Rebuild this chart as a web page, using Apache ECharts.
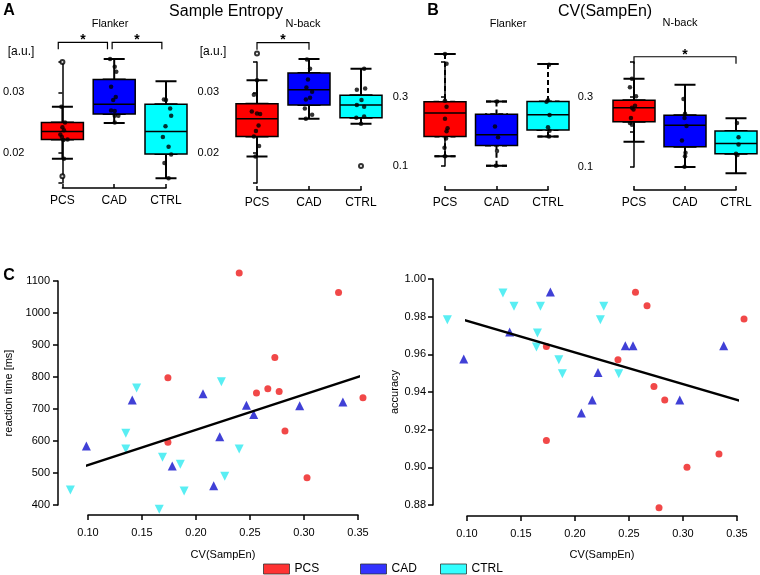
<!DOCTYPE html>
<html>
<head>
<meta charset="utf-8">
<script src="https://cdn.jsdelivr.net/npm/echarts@6/dist/echarts.min.js"></script>
<style>
  html, body { margin: 0; padding: 0; background: #fff; }
  #main { width: 760px; height: 575px; }
</style>
</head>
<body>
<div id="main"></div>
<script>
const groups = ['PCS', 'CAD', 'CTRL'];
const boxColors = ['#ff0000', '#0000ff', '#00ffff'];
const pointColors = ['#ee1a1a', '#1010cc', '#30eaf0'];

// boxes: [min, Q1, median, Q3, max] for PCS, CAD, CTRL
const aFlankerBox = [
  [0.0190, 0.0222, 0.0235, 0.0250, 0.0276],
  [0.0249, 0.0264, 0.0280, 0.0321, 0.0355],
  [0.0158, 0.0198, 0.0235, 0.0280, 0.0318]
];
const aFlankerDots = [
  [-0.02, 0.0276], [0.05, 0.0250], [0, 0.0242], [0.03, 0.0237], [-0.04, 0.0230],
  [-0.01, 0.0226], [0.10, 0.0222], [0.02, 0.0221], [0.03, 0.0190],
  [0.92, 0.0355], [1.01, 0.0342], [1.04, 0.0334], [0.94, 0.0309], [1.03, 0.0292],
  [0.98, 0.0287], [0.94, 0.0270], [1.01, 0.0269], [1.01, 0.0261], [1.08, 0.0261], [1.01, 0.0250],
  [1.96, 0.0288], [2.0, 0.0287], [2.08, 0.0273], [2.10, 0.0261], [1.99, 0.0244],
  [1.94, 0.0226], [2.05, 0.0210], [2.10, 0.0197], [1.97, 0.0183], [2.05, 0.0158]
];
const aFlankerOut = [[0, 0.0350], [0, 0.0161]];

const aNbackBox = [
  [0.0194, 0.0227, 0.0256, 0.0281, 0.0320],
  [0.0256, 0.0279, 0.0304, 0.0332, 0.0355],
  [0.0248, 0.0258, 0.0279, 0.0295, 0.0339]
];
const aNbackDots = [
  [0, 0.0320], [-0.06, 0.0296], [-0.10, 0.0268], [0, 0.0265], [0.06, 0.0264],
  [0.03, 0.0245], [-0.02, 0.0236], [-0.06, 0.0227], [0.04, 0.0211], [-0.03, 0.0194],
  [0.96, 0.0354], [1.02, 0.0339], [0.98, 0.0321], [0.95, 0.0308], [1.06, 0.0301],
  [1.02, 0.0291], [0.94, 0.0288], [0.92, 0.0273], [1.06, 0.0263], [0.94, 0.0256],
  [2.06, 0.0339], [1.92, 0.0304], [2.08, 0.0306], [2.01, 0.0287], [1.92, 0.0279],
  [2.06, 0.0276], [1.91, 0.0258], [2.06, 0.0260], [2.0, 0.0248]
];
const aNbackOut = [[0, 0.0364], [2, 0.0178]];

const bFlankerBox = [
  [0.128, 0.185, 0.253, 0.285, 0.423],
  [0.101, 0.159, 0.190, 0.249, 0.286],
  [0.185, 0.204, 0.248, 0.286, 0.394]
];
const bFlankerDots = [
  [0, 0.423], [0.03, 0.395], [0, 0.288], [0.03, 0.271], [0, 0.236], [0.05, 0.209],
  [0.03, 0.200], [0.02, 0.179], [-0.01, 0.153], [0, 0.128],
  [1.01, 0.286], [0.97, 0.214], [1.03, 0.183], [1.01, 0.143], [0.99, 0.101],
  [2.02, 0.392], [2.0, 0.290], [1.97, 0.285], [2.03, 0.247], [2.0, 0.212], [2.03, 0.202], [2.02, 0.185]
];

const bNbackBox = [
  [0.172, 0.229, 0.269, 0.291, 0.352],
  [0.100, 0.158, 0.219, 0.248, 0.335],
  [0.082, 0.138, 0.167, 0.203, 0.239]
];
const bNbackDots = [
  [-0.04, 0.352], [-0.08, 0.328], [0.04, 0.302], [0.02, 0.275], [-0.04, 0.269],
  [-0.01, 0.264], [-0.06, 0.240], [-0.08, 0.226], [-0.04, 0.221],
  [0.97, 0.294], [1.0, 0.252], [0.99, 0.240], [1.03, 0.217], [0.94, 0.176],
  [1.01, 0.141], [1.0, 0.131], [0.99, 0.101],
  [2.02, 0.226], [2.05, 0.185], [2.05, 0.164], [2.0, 0.138], [2.03, 0.134]
];

// significance brackets: [from, to, level]
const aFlankerSig = [[-0.08, 0.87, 0.03826], [0.96, 1.92, 0.03826]];
const aNbackSig = [[0, 1, 0.0382]];
const bNbackSig = [[0, 2, 0.415]];

const aTickLabels = [0.02, 0.03];
const bTickLabels = [0.1, 0.3];

// panel C: [CV(SampEn), reaction time]
const rtPCS = [[0.174, 798], [0.174, 596], [0.240, 1125], [0.332, 1064], [0.273, 861], [0.256, 750],
  [0.2665, 763], [0.277, 755], [0.3546, 735], [0.2824, 631], [0.3028, 485]];
const rtCAD = [[0.141, 728], [0.0985, 584], [0.178, 522], [0.2065, 748], [0.2467, 712], [0.296, 710],
  [0.336, 722], [0.2534, 683], [0.222, 613], [0.2164, 460]];
const rtCTRL = [[0.145, 766], [0.135, 624], [0.135, 575], [0.169, 549], [0.1855, 527], [0.0837, 447],
  [0.189, 444], [0.166, 387], [0.2235, 785], [0.240, 575], [0.2266, 490]];
const rtFit = [[0.072, 494], [0.366, 818]];

// panel C: [CV(SampEn), accuracy]
const accPCS = [[0.1735, 0.9642], [0.1735, 0.9142], [0.256, 0.993], [0.2667, 0.9858], [0.3565, 0.9788],
  [0.2398, 0.9571], [0.2731, 0.9429], [0.2831, 0.9358], [0.3333, 0.9071], [0.3037, 0.900], [0.2778, 0.8786]];
const accCAD = [[0.1772, 0.9931], [0.1395, 0.9719], [0.097, 0.9575], [0.2466, 0.9646], [0.2537, 0.9646],
  [0.3377, 0.9646], [0.2213, 0.9504], [0.297, 0.9358], [0.216, 0.9358], [0.2059, 0.9288]];
const accCTRL = [[0.1333, 0.9926], [0.1435, 0.9855], [0.168, 0.9855], [0.0818, 0.9784], [0.1652, 0.9713],
  [0.1643, 0.9639], [0.185, 0.9571], [0.1883, 0.9497], [0.2266, 0.9855], [0.2235, 0.9784], [0.2405, 0.9497]];
const accFit = [[0.070, 0.9828], [0.3685, 0.9327]];

const FONT = 'Liberation Sans, Arial, sans-serif';
const chart = echarts.init(document.getElementById('main'));

const grids = [
  {left: 62, top: 62, width: 104, height: 121},
  {left: 257, top: 62, width: 104, height: 121},
  {left: 445, top: 62, width: 103, height: 104},
  {left: 634, top: 62, width: 102, height: 105},
  {left: 88, top: 281, width: 270, height: 224},
  {left: 467, top: 279, width: 270, height: 226}
];

const axisLine = {show: true, lineStyle: {color: '#000', width: 1.5}};

function boxXAxis(i, offset) {
  return {
    gridIndex: i, type: 'value', min: 0, max: 2, interval: 1, offset: offset,
    axisLine: axisLine,
    axisTick: {show: true, inside: true, length: 4, lineStyle: {color: '#000', width: 1.5}},
    axisLabel: {formatter: v => groups[v] || '', color: '#000', fontSize: 12, margin: 7, fontFamily: FONT},
    splitLine: {show: false}
  };
}

// hidden twin axes so that the stacked boxplot layers are not laid out side by side
function hiddenXAxis(i) {
  return {gridIndex: i, type: 'value', min: 0, max: 2, show: false};
}

function boxYAxis(i, min, max, interval, offset, labels, digits) {
  return {
    gridIndex: i, type: 'value', min: min, max: max, interval: interval, offset: offset,
    axisLine: axisLine,
    axisTick: {show: true, length: 4, lineStyle: {color: '#000', width: 1.5}},
    axisLabel: {
      color: '#000', fontSize: 11, margin: 5, fontFamily: FONT, showMinLabel: true, showMaxLabel: true,
      formatter: v => labels.some(l => Math.abs(l - v) < 1e-9) ? v.toFixed(digits) : ''
    },
    splitLine: {show: false}
  };
}

function sigSeries(i, data) {
  return {
    type: 'custom', xAxisIndex: i, yAxisIndex: i, data: data, clip: false, silent: true, z: 6,
    encode: {x: [0, 1], y: 2},
    renderItem: function (params, api) {
      const a = api.coord([api.value(0), api.value(2)]);
      const b = api.coord([api.value(1), api.value(2)]);
      return {
        type: 'group', children: [
          {type: 'polyline', shape: {points: [[a[0], a[1] + 7], a, b, [b[0], b[1] + 7]]},
            style: {stroke: '#000', lineWidth: 1.2, fill: null}},
          {type: 'text', style: {text: '*', x: (a[0] + b[0]) / 2, y: a[1] - 2, textAlign: 'center',
            textVerticalAlign: 'middle', font: 'bold 14px ' + FONT, fill: '#000'}}
        ]
      };
    }
  };
}

function boxSeries(i, box, dots, outliers, dashed, sig) {
  const s = [];
  const whiskerAxis = 6 + 2 * i;
  const capAxis = 7 + 2 * i;
  s.push({
    type: 'boxplot', xAxisIndex: whiskerAxis, yAxisIndex: i, boxWidth: [21, 21], silent: true,
    data: box.map((b, k) => [k].concat(b)),
    itemStyle: {color: '#fff', borderColor: '#000', borderWidth: 2, borderType: dashed ? [5, 3] : 'solid'}
  });
  if (dashed) {
    const caps = [];
    box.forEach((b, k) => {
      caps.push([k, b[0], b[0], b[0], b[0], b[0]]);
      caps.push([k, b[4], b[4], b[4], b[4], b[4]]);
    });
    s.push({
      type: 'boxplot', xAxisIndex: capAxis, yAxisIndex: i, boxWidth: [21, 21], silent: true, data: caps,
      itemStyle: {color: '#fff', borderColor: '#000', borderWidth: 2}
    });
  }
  s.push({
    type: 'boxplot', xAxisIndex: i, yAxisIndex: i, boxWidth: [42, 42], silent: true,
    data: box.map((b, k) => ({value: [k, b[1], b[1], b[2], b[3], b[3]], itemStyle: {color: boxColors[k]}})),
    itemStyle: {borderColor: '#000', borderWidth: 1.5}
  });
  s.push({
    type: 'scatter', xAxisIndex: i, yAxisIndex: i, data: dots, symbolSize: 4.5, clip: false, silent: true,
    itemStyle: {color: '#000'}
  });
  if (outliers) {
    s.push({
      type: 'scatter', xAxisIndex: i, yAxisIndex: i, data: outliers, symbol: 'emptyCircle', symbolSize: 4,
      clip: false, silent: true, itemStyle: {color: '#000', borderColor: '#000', borderWidth: 1}
    });
  }
  if (sig) s.push(sigSeries(i, sig));
  return s;
}

function scatterSeries(i, data, k) {
  const shapes = ['circle', 'triangle', 'triangle'];
  return {
    type: 'scatter', name: groups[k], xAxisIndex: i, yAxisIndex: i, data: data, clip: false,
    symbol: shapes[k], symbolSize: k === 0 ? 7 : 9, symbolRotate: k === 2 ? 180 : 0,
    itemStyle: {color: pointColors[k]}, z: 3
  };
}

function fitSeries(i, data) {
  return {
    type: 'line', xAxisIndex: i, yAxisIndex: i, data: data, clip: false, symbol: 'none', silent: true,
    lineStyle: {color: '#000', width: 2.5}, z: 4
  };
}

function cXAxis(i, offset, gap) {
  return {
    gridIndex: i, type: 'value', min: 0.1, max: 0.35, interval: 0.05, offset: offset,
    name: 'CV(SampEn)', nameLocation: 'middle', nameGap: gap,
    nameTextStyle: {color: '#000', fontSize: 11, fontFamily: FONT},
    axisLine: axisLine,
    axisTick: {show: true, length: 5, lineStyle: {color: '#000', width: 1.5}},
    axisLabel: {color: '#000', fontSize: 11, margin: 12, fontFamily: FONT, formatter: v => v.toFixed(2)},
    splitLine: {show: false}
  };
}

function cYAxis(i, min, max, interval, offset, name, gap, digits, margin) {
  return {
    gridIndex: i, type: 'value', min: min, max: max, interval: interval, offset: offset,
    name: name, nameLocation: 'middle', nameGap: gap,
    nameTextStyle: {color: '#000', fontSize: 11, fontFamily: FONT},
    axisLine: axisLine,
    axisTick: {show: true, length: 5, lineStyle: {color: '#000', width: 1.5}},
    axisLabel: {color: '#000', fontSize: 11, margin: margin, fontFamily: FONT, formatter: v => v.toFixed(digits)},
    splitLine: {show: false}
  };
}

function legendAt(k, left) {
  return {
    left: left, top: 563, padding: 0, itemWidth: 26, itemHeight: 10, selectedMode: false,
    textStyle: {color: '#000', fontSize: 12, fontFamily: FONT},
    data: [{name: groups[k], icon: 'rect',
      itemStyle: {color: boxColors[k], borderColor: '#333', borderWidth: 1}}]
  };
}

function label(text, x, y, size, bold) {
  return {
    type: 'text', x: x, y: y,
    style: {text: text, fill: '#000', font: (bold ? 'bold ' : '') + size + 'px ' + FONT,
      textAlign: 'center', textVerticalAlign: 'middle'}
  };
}

const option = {
  animation: false,
  backgroundColor: '#fff',
  textStyle: {fontFamily: FONT},
  grid: grids,
  xAxis: [
    boxXAxis(0, 5), boxXAxis(1, 7), boxXAxis(2, 24), boxXAxis(3, 23),
    cXAxis(4, 10, 34), cXAxis(5, 11, 33),
    hiddenXAxis(0), hiddenXAxis(0), hiddenXAxis(1), hiddenXAxis(1),
    hiddenXAxis(2), hiddenXAxis(2), hiddenXAxis(3), hiddenXAxis(3)
  ],
  yAxis: [
    boxYAxis(0, 0.015, 0.035, 0.005, 33, aTickLabels, 2),
    boxYAxis(1, 0.015, 0.035, 0.005, 33, aTickLabels, 2),
    boxYAxis(2, 0.1, 0.4, 0.1, 32, bTickLabels, 1),
    boxYAxis(3, 0.1, 0.4, 0.1, 36, bTickLabels, 1),
    cYAxis(4, 400, 1100, 100, 30, 'reaction time [ms]', 44, 0, 8),
    cYAxis(5, 0.88, 1.00, 0.02, 34, 'accuracy', 30, 2, 7)
  ],
  legend: [legendAt(0, 263), legendAt(1, 360), legendAt(2, 440)],
  series: [].concat(
    boxSeries(0, aFlankerBox, aFlankerDots, aFlankerOut, false, aFlankerSig),
    boxSeries(1, aNbackBox, aNbackDots, aNbackOut, false, aNbackSig),
    boxSeries(2, bFlankerBox, bFlankerDots, null, true, null),
    boxSeries(3, bNbackBox, bNbackDots, null, false, bNbackSig),
    [
      scatterSeries(4, rtPCS, 0), scatterSeries(4, rtCAD, 1), scatterSeries(4, rtCTRL, 2), fitSeries(4, rtFit),
      scatterSeries(5, accPCS, 0), scatterSeries(5, accCAD, 1), scatterSeries(5, accCTRL, 2), fitSeries(5, accFit)
    ]
  ),
  graphic: [
    label('A', 9, 11, 16, true),
    label('B', 433, 11, 16, true),
    label('C', 9, 276, 16, true),
    label('Sample Entropy', 226, 12, 16),
    label('CV(SampEn)', 605, 12, 16),
    label('Flanker', 110, 24, 11),
    label('N-back', 303, 24, 11),
    label('Flanker', 508, 24, 11),
    label('N-back', 680, 23, 11),
    label('[a.u.]', 21, 52, 12),
    label('[a.u.]', 213, 52, 12)
  ]
};

chart.setOption(option);
</script>
</body>
</html>
